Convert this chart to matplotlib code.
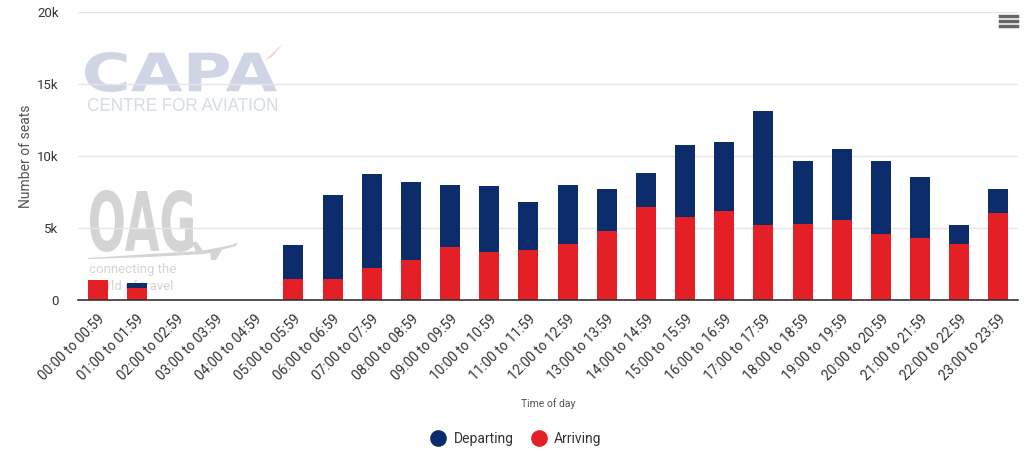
import numpy as np
import matplotlib

matplotlib.use("Agg")
import matplotlib.pyplot as plt
from matplotlib.lines import Line2D
from matplotlib.patches import PathPatch, Polygon
from matplotlib.textpath import TextPath
from matplotlib.font_manager import FontProperties
from matplotlib.transforms import Affine2D, IdentityTransform


# hourly slots
hours = [f"{h:02d}:00 to {h:02d}:59" for h in range(24)]

# seat counts (thousands)
arriving = [1.39, 0.85, 0, 0, 0, 1.46, 1.46, 2.22, 2.78, 3.68, 3.33, 3.47,
            3.89, 4.79, 6.46, 5.76, 6.18, 5.21, 5.28, 5.56, 4.58, 4.31, 3.89, 6.04]
total = [1.39, 1.18, 0, 0, 0, 3.82, 7.29, 8.75, 8.19, 7.99, 7.92, 6.81,
         7.99, 7.71, 8.82, 10.76, 10.97, 13.13, 9.65, 10.49, 9.65, 8.54, 5.21, 7.71]

arriving = np.array(arriving) * 1000
departing = np.array(total) * 1000 - arriving

yticks = [0, 5000, 10000, 15000, 20000]
ytick_labels = ["0", "5k", "10k", "15k", "20k"]

NAVY = "#0d2c6c"
RED = "#e41f26"
W, H = 1032, 454

plt.rcParams["font.family"] = ["Roboto", "DejaVu Sans"]

fig = plt.figure(figsize=(W / 100, H / 100), dpi=100)
ax = fig.add_axes([78 / W, 1 - 300 / H, 940 / W, 288 / H])
# keep the watermark behind the bars and gridlines
ax.set_zorder(1)
ax.patch.set_visible(False)


def fitted_text(s, box, color, family, weight="normal"):
    """Draw text as a path stretched into a pixel box (x0, top, x1, bottom)."""
    tp = TextPath((0, 0), s, size=1, prop=FontProperties(family=family, weight=weight))
    ext = tp.get_extents()
    x0, top, x1, bot = box
    sx = (x1 - x0) / ext.width
    sy = (bot - top) / ext.height
    tr = Affine2D().translate(-ext.x0, -ext.y0).scale(sx, sy).translate(x0, H - bot)
    fig.add_artist(PathPatch(tr.transform_path(tp), facecolor=color, edgecolor="none",
                             transform=IdentityTransform(), zorder=0))


def px_poly(pts, color):
    fig.add_artist(Polygon([(px, H - py) for px, py in pts], closed=True, facecolor=color,
                           edgecolor="none", transform=IdentityTransform(), zorder=0))


# CAPA watermark
fitted_text("CAPA", (85, 52, 277, 92), "#cfd5e4", "DejaVu Sans", "bold")
fitted_text("CENTRE FOR AVIATION", (88, 98, 277, 111), "#d6dbe8", "Liberation Sans")
px_poly([(265, 60), (284, 43), (272, 57)], "#f9cfd0")

# OAG watermark
fitted_text("OAG", (90, 190, 193, 252), "#d4d4d4", "Liberation Sans Narrow", "bold")
px_poly([(88, 258), (150, 254), (200, 251), (232, 245), (238, 242), (236, 246),
         (205, 254), (150, 257), (88, 259)], "#d4d4d4")
px_poly([(210, 250), (222, 250), (216, 260), (211, 260)], "#d4d4d4")
px_poly([(192, 242), (197, 242), (203, 251), (196, 252)], "#d4d4d4")
fig.text(89 / W, 1 - 270 / H, "connecting the", fontsize=9.5, color="#d4d4d4",
         ha="left", va="center", zorder=0)
fig.text(89 / W, 1 - 286 / H, "world of travel", fontsize=9.5, color="#d4d4d4",
         ha="left", va="center", zorder=0)

x = np.arange(len(hours))
ax.bar(x, arriving, width=0.51, color=RED, zorder=2)
ax.bar(x, departing, width=0.51, bottom=arriving, color=NAVY, zorder=2)

ax.set_xlim(-0.5, len(hours) - 0.5)
ax.set_ylim(0, 20000)
ax.set_yticks(yticks)
ax.set_yticklabels(ytick_labels)
ax.set_xticks(x)
ax.set_xticklabels(hours, rotation=45, ha="right", rotation_mode="anchor")

ax.grid(axis="y", color="#e6e6e6", linewidth=1, zorder=0)
for side in ["top", "right", "left"]:
    ax.spines[side].set_visible(False)
ax.spines["bottom"].set_color("#333333")
ax.spines["bottom"].set_linewidth(1.2)
ax.tick_params(axis="y", length=0, labelsize=9.5, labelcolor="#333333", pad=14)
ax.tick_params(axis="x", length=0, labelsize=9.8, labelcolor="#333333", pad=9)

ax.set_ylabel("Number of seats", fontsize=10, color="#555555", labelpad=3)
fig.text(548 / W, 1 - 404 / H, "Time of day", fontsize=7.5,
         color="#555555", ha="center", va="center")

# legend
handles = [
    Line2D([], [], marker="o", linestyle="", markersize=11, color=NAVY, label="Departing"),
    Line2D([], [], marker="o", linestyle="", markersize=11, color=RED, label="Arriving"),
]
fig.legend(handles=handles, loc="center", bbox_to_anchor=(513 / W, 1 - 439 / H),
           ncol=2, frameon=False, fontsize=10, handletextpad=0.1,
           columnspacing=0.8, labelcolor="#333333")

# menu icon
for yy in [16, 21, 26]:
    fig.add_artist(Line2D([1000 / W, 1017 / W], [1 - yy / H, 1 - yy / H],
                          color="#666666", linewidth=2.5, transform=fig.transFigure))

fig.savefig("out.png", dpi=100)
